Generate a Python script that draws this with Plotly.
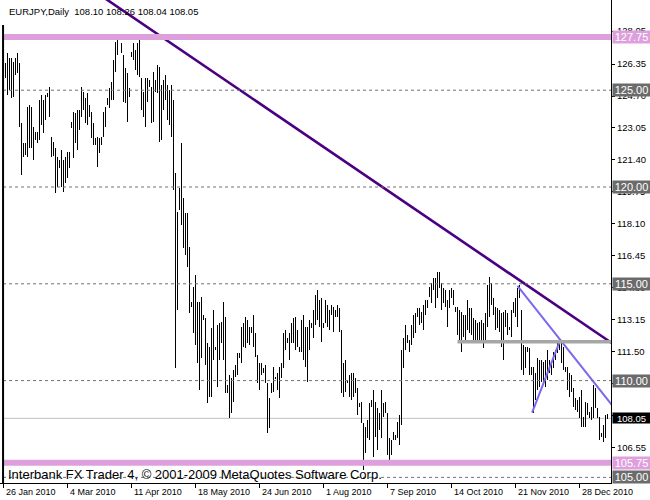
import plotly.graph_objects as go

SYMBOL_TITLE = "EURJPY,Daily"
LAST_OHLC = [108.10, 108.26, 108.04, 108.05]
FOOTER = "Interbank FX Trader 4, \u00a9 2001-2009 MetaQuotes Software Corp."

HIGH = [
    126.41, 126.92, 126.66, 126.66, 126.46, 126.66, 126.92, 126.41, 123.31, 122.27,
    122.27, 124.13, 124.24, 124.13, 123.10, 122.84, 122.84, 124.49, 124.75, 124.49,
    124.75, 124.86, 125.17, 122.58, 122.30, 122.02, 121.55, 121.40, 121.91, 121.40,
    121.55, 121.81, 121.81, 123.36, 123.87, 123.82, 123.98, 123.98, 125.17, 124.91,
    124.60, 124.86, 124.24, 123.87, 123.31, 122.53, 122.58, 122.53, 122.58, 123.87,
    124.13, 124.60, 125.11, 125.42, 126.56, 127.49, 127.59, 127.90, 127.44, 126.82,
    126.15, 125.89, 125.11, 126.97, 127.44, 127.08, 127.44, 127.59, 125.63, 124.91,
    125.63, 125.63, 125.53, 125.17, 125.94, 125.53, 126.30, 126.20, 125.27, 125.53,
    125.79, 125.27, 125.01, 125.27, 124.49, 120.72, 118.71, 119.95, 122.27, 119.43,
    118.66, 118.66, 116.90, 114.06, 114.84, 115.46, 114.06, 114.06, 114.32, 113.39,
    113.23, 111.94, 111.74, 112.72, 113.65, 111.74, 112.87, 112.98, 113.03, 114.06,
    113.29, 109.77, 110.29, 110.13, 110.55, 110.81, 111.43, 111.43, 112.77, 112.98,
    113.29, 113.13, 112.77, 112.77, 113.39, 112.46, 111.32, 110.91, 110.91, 110.65,
    110.81, 109.88, 109.10, 109.88, 110.70, 110.19, 110.39, 110.70, 110.91, 112.46,
    112.62, 112.20, 112.46, 112.98, 113.23, 113.29, 112.62, 111.74, 113.13, 113.39,
    112.77, 112.77, 113.13, 112.98, 113.65, 114.42, 114.68, 114.16, 114.27, 112.98,
    114.16, 113.91, 113.65, 113.91, 113.80, 113.65, 113.91, 113.75, 112.62, 110.91,
    111.07, 110.03, 110.29, 110.39, 110.39, 110.13, 109.62, 108.84, 108.90, 107.81,
    107.60, 107.97, 108.84, 109.00, 109.52, 108.90, 108.59, 108.33, 109.52, 108.84,
    108.90, 108.33, 107.04, 106.93, 107.35, 107.19, 107.86, 108.22, 111.58, 112.20,
    112.87, 112.36, 112.10, 112.87, 113.39, 113.49, 113.75, 113.75, 113.55, 113.91,
    114.16, 114.16, 114.84, 115.04, 115.30, 115.30, 115.61, 115.61, 115.04, 114.79,
    114.68, 114.16, 114.68, 114.79, 114.68, 113.80, 113.80, 113.65, 113.55, 113.39,
    113.39, 114.16, 113.75, 113.75, 113.23, 113.13, 112.98, 113.03, 113.13, 112.98,
    113.49, 114.94, 115.35, 115.04, 114.27, 113.80, 113.75, 113.65, 113.49, 113.55,
    113.65, 113.49, 112.77, 113.65, 114.06, 114.27, 114.79, 114.94, 113.65, 111.84,
    111.74, 111.74, 111.69, 110.70, 110.70, 110.39, 111.17, 111.07, 111.07, 110.96,
    111.07, 111.58, 111.07, 110.96, 111.48, 111.58, 112.10, 112.10, 112.00, 111.74,
    110.70, 110.70, 110.39, 110.29, 109.62, 109.10, 109.00, 109.15, 109.52, 108.12,
    108.90, 108.84, 108.38, 108.64, 109.77, 109.62, 108.59, 108.12, 107.29, 107.71,
    108.22, 108.26,
]
LOW = [
    125.63, 124.75, 125.01, 124.60, 124.65, 125.79, 125.89, 123.10, 120.62, 121.55,
    121.65, 121.55, 122.02, 122.02, 121.40, 122.43, 122.27, 122.43, 123.20, 122.79,
    123.46, 124.65, 123.62, 121.55, 121.60, 119.69, 119.98, 120.98, 119.98, 119.74,
    120.21, 120.47, 120.98, 123.05, 121.50, 122.27, 121.91, 122.94, 123.62, 123.98,
    123.31, 123.20, 123.62, 122.53, 122.17, 122.17, 121.03, 121.76, 122.17, 122.58,
    123.10, 124.24, 124.08, 124.49, 124.49, 125.94, 126.82, 127.59, 126.92, 124.39,
    124.34, 123.36, 124.65, 126.72, 126.56, 126.04, 125.79, 125.68, 123.98, 123.62,
    123.10, 124.39, 125.17, 123.31, 123.36, 124.91, 124.86, 122.33, 122.43, 123.98,
    124.49, 123.46, 123.20, 122.58, 119.85, 110.65, 113.65, 118.81, 118.04, 116.85,
    116.49, 115.87, 113.49, 113.80, 112.46, 111.84, 110.91, 109.52, 111.17, 113.13,
    110.81, 108.84, 109.15, 109.15, 111.07, 111.58, 109.67, 111.07, 111.94, 111.07,
    109.36, 109.36, 108.07, 108.33, 108.90, 110.19, 110.29, 111.17, 110.91, 111.74,
    111.69, 111.94, 111.84, 112.46, 111.74, 111.22, 109.88, 109.52, 110.29, 110.39,
    109.88, 107.29, 107.55, 109.36, 109.41, 110.13, 109.52, 109.10, 110.13, 110.65,
    111.58, 111.94, 111.07, 111.94, 111.94, 111.58, 111.74, 111.48, 111.48, 111.07,
    110.70, 109.93, 111.58, 112.72, 112.20, 112.87, 113.13, 112.77, 112.00, 112.72,
    112.98, 112.77, 112.62, 113.39, 112.51, 113.29, 113.29, 112.51, 109.36, 109.15,
    109.41, 109.88, 109.15, 109.00, 109.15, 109.36, 108.22, 108.64, 107.81, 105.38,
    106.26, 107.04, 106.93, 108.64, 106.06, 107.09, 106.42, 107.45, 107.04, 108.12,
    108.33, 106.16, 105.90, 106.16, 106.93, 106.93, 107.04, 106.67, 107.71, 110.65,
    111.58, 111.94, 111.48, 111.84, 112.20, 112.46, 113.29, 112.87, 112.98, 112.62,
    113.39, 113.75, 114.32, 114.01, 114.68, 113.75, 114.27, 114.79, 113.65, 114.01,
    113.80, 112.77, 113.75, 114.27, 113.91, 113.55, 112.36, 111.94, 111.48, 112.25,
    112.10, 112.62, 112.46, 112.36, 111.94, 112.10, 112.10, 112.10, 112.00, 111.69,
    111.94, 112.77, 113.29, 113.91, 113.39, 112.62, 112.72, 112.51, 111.74, 111.07,
    112.77, 112.36, 112.62, 112.25, 113.49, 113.29, 112.77, 114.27, 110.55, 110.29,
    110.65, 111.48, 110.29, 110.29, 108.33, 109.00, 109.52, 109.67, 109.93, 109.88,
    109.67, 110.03, 110.39, 110.29, 110.65, 111.07, 111.43, 111.58, 110.91, 110.55,
    110.45, 109.52, 109.15, 109.41, 108.64, 108.48, 108.38, 108.07, 107.60, 107.60,
    107.60, 108.22, 108.07, 107.97, 108.07, 108.59, 108.07, 106.93, 107.09, 106.83,
    107.04, 108.04,
]

DATE_LABELS = ["26 Jan 2010", "4 Mar 2010", "11 Apr 2010", "18 May 2010", "24 Jun 2010",
               "1 Aug 2010", "7 Sep 2010", "14 Oct 2010", "21 Nov 2010", "28 Dec 2010"]
DATE_TICK_BARS = [-1, 31, 63, 95, 127, 159, 191, 223, 255, 287]

Y_TICKS = [128.05, 126.35, 124.70, 123.05, 121.40, 119.75, 118.10, 116.45,
           114.80, 113.15, 111.50, 109.85, 108.20, 106.55]

DASHED_LEVELS = [125.00, 120.00, 115.00, 110.00, 105.00]
PINK_LEVELS = [127.75, 105.75]
BID = 108.05
GRAY_LEVEL = 112.00
GRAY_LEVEL_START = 226

TREND_MAIN_X = [40, 304]
TREND_MAIN_Y = [130.43, 111.88]
TREND_BLUE1_X = [256, 304]
TREND_BLUE1_Y = [114.89, 108.64]
TREND_BLUE2_X = [263.3, 277.5]
TREND_BLUE2_Y = [108.34, 112.13]

X_RANGE = [-2.75, 302.75]
Y_RANGE = [104.71, 129.66]

FONT = "Liberation Sans"
PINK = "#DDA0DD"
DARKGRAY = "#6B6B6B"

bars = list(range(len(HIGH)))
fig = go.Figure()

fig.add_trace(go.Bar(
    x=bars, base=LOW, y=[h - l for h, l in zip(HIGH, LOW)],
    width=0.5, marker=dict(color="black", line=dict(width=0)),
    hoverinfo="skip", showlegend=False,
))

fig.add_trace(go.Scatter(x=TREND_MAIN_X, y=TREND_MAIN_Y, mode="lines",
                         line=dict(color="#4B0082", width=2.6), hoverinfo="skip", showlegend=False))
fig.add_trace(go.Scatter(x=TREND_BLUE1_X, y=TREND_BLUE1_Y, mode="lines",
                         line=dict(color="#7B68EE", width=2), hoverinfo="skip", showlegend=False))
fig.add_trace(go.Scatter(x=TREND_BLUE2_X, y=TREND_BLUE2_Y, mode="lines",
                         line=dict(color="#7B68EE", width=2), hoverinfo="skip", showlegend=False))

shapes = []
for lv in DASHED_LEVELS:
    shapes.append(dict(type="line", xref="paper", x0=0.005, x1=1, yref="y", y0=lv, y1=lv,
                       line=dict(color="#707070", width=1, dash="3px,3px")))
for lv in PINK_LEVELS:
    shapes.append(dict(type="line", xref="paper", x0=0.005, x1=1, yref="y", y0=lv, y1=lv,
                       line=dict(color=PINK, width=6)))
shapes.append(dict(type="line", xref="paper", x0=0.005, x1=1, yref="y", y0=BID, y1=BID,
                   line=dict(color="#C0C0C0", width=1), layer="below"))
shapes.append(dict(type="line", xref="x", x0=GRAY_LEVEL_START, x1=X_RANGE[1], yref="y",
                   y0=GRAY_LEVEL, y1=GRAY_LEVEL, line=dict(color="#A6A6A6", width=3.5)))
shapes.append(dict(type="line", xref="paper", x0=0.005, x1=0.005, yref="paper", y0=0, y1=0.948,
                   line=dict(color="black", width=2)))

annotations = []
annotations.append(dict(xref="paper", yref="paper", x=0, y=1, xshift=7, yshift=-11,
                        xanchor="left", yanchor="middle", showarrow=False,
                        text=SYMBOL_TITLE + "  " + " ".join(f"{v:.2f}" for v in LAST_OHLC),
                        font=dict(family=FONT, size=9.5, color="black")))
annotations.append(dict(xref="paper", yref="paper", x=0, y=0, xshift=6, yshift=9,
                        xanchor="left", yanchor="middle", showarrow=False, text=FOOTER,
                        font=dict(family=FONT, size=13, color="black")))
for k, lab in zip(DATE_TICK_BARS, DATE_LABELS):
    annotations.append(dict(xref="x", yref="paper", x=k, y=0, yshift=-9, xanchor="left",
                            yanchor="middle", showarrow=False, text=lab,
                            font=dict(family=FONT, size=9, color="black")))

boxes = [(127.75, PINK, 11), (125.00, DARKGRAY, 11), (120.00, DARKGRAY, 11),
         (115.00, DARKGRAY, 11), (110.00, DARKGRAY, 11), (BID, "black", 9.5),
         (105.75, PINK, 11), (105.00, DARKGRAY, 11)]
for val, col, fs in boxes:
    annotations.append(dict(xref="paper", yref="y", x=1, y=val, xshift=1, xanchor="left",
                            yanchor="middle", showarrow=False, text=f"{val:.2f}",
                            bgcolor=col, width=37, height=12 if fs > 10 else 10,
                            borderpad=0, align="center",
                            font=dict(family=FONT, size=fs, color="white")))

fig.update_layout(
    template="none",
    width=650, height=500,
    margin=dict(l=0, r=39, t=0, b=17, pad=0, autoexpand=False),
    paper_bgcolor="white", plot_bgcolor="white",
    font=dict(family=FONT, size=9, color="black"),
    bargap=0, showlegend=False,
    shapes=shapes, annotations=annotations,
    xaxis=dict(range=X_RANGE, showgrid=False, zeroline=False, showline=True,
               linecolor="black", linewidth=1, ticks="outside", ticklen=4,
               tickcolor="black", tickvals=DATE_TICK_BARS, showticklabels=False,
               fixedrange=True, automargin=False),
    yaxis=dict(range=Y_RANGE, side="right", showgrid=False, zeroline=False,
               showline=True, linecolor="black", linewidth=1, ticks="outside",
               ticklen=3, tickcolor="black", tickvals=Y_TICKS,
               ticktext=[f"{v:.2f}" for v in Y_TICKS],
               tickfont=dict(family=FONT, size=9.5, color="black"), fixedrange=True,
               automargin=False),
)

fig.write_html("out.html", config={"displayModeBar": False},
               post_script="document.body.style.margin='0';document.body.style.padding='0';")
